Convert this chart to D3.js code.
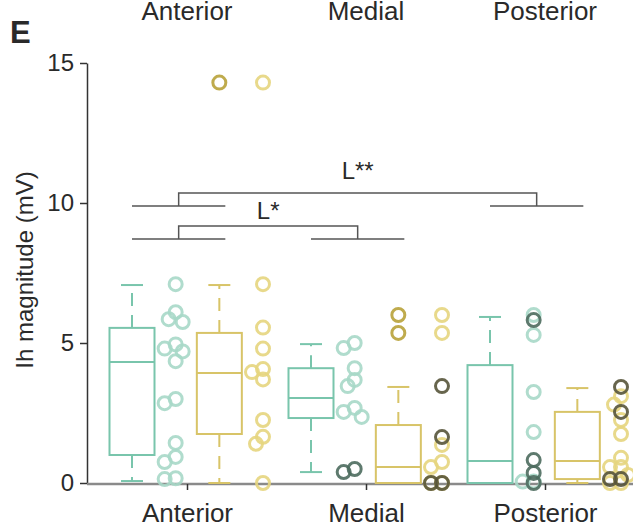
<!DOCTYPE html>
<html lang="en">
<head>
<meta charset="UTF-8">
<title>Ih magnitude</title>
<script src="https://d3js.org/d3.v7.min.js"></script>
<style>
  body { margin: 0; background: #fff; }
  text { font-family: "Liberation Sans", Arial, sans-serif; fill: #2a2a2a; }
</style>
</head>
<body>
<script>
var width = 633, height = 527;

var categories = ["Anterior", "Medial", "Posterior"];
var yTicks = [0, 5, 10, 15];

// box summaries, one value per category
var tealLo  = [0.07, 0.39, 0];
var tealQ1  = [1.0, 2.32, 0];
var tealMed = [4.32, 3.04, 0.79];
var tealQ3  = [5.54, 4.1, 4.21];
var tealHi  = [7.07, 4.96, 5.93];

var yelLo  = [0, 0, 0];
var yelQ1  = [1.75, 0, 0.14];
var yelMed = [3.93, 0.57, 0.79];
var yelQ3  = [5.36, 2.07, 2.54];
var yelHi  = [7.07, 3.43, 3.39];
var yelOut = [[14.3], [6.0, 5.36], []];

// individual cells
var tealPts = [
  [7.1, 6.1, 5.85, 5.75, 4.95, 4.8, 4.7, 4.35, 3.0, 2.85, 1.43, 0.93, 0.75, 0.17, 0.14],
  [5.0, 4.82, 4.1, 3.68, 3.46, 2.68, 2.54, 2.36],
  [6.0, 5.29, 3.25, 1.82, 0.05, 0.05]
];
var tealDark = [[], [0.5, 0.39], [5.82, 0.82, 0.36, 0]];

var yelPts = [
  [14.3, 7.1, 5.55, 4.8, 4.07, 3.96, 3.7, 2.25, 1.65, 1.4, 0],
  [6.0, 5.36, 1.36, 0.75, 0.57, 0, 0],
  [3.1, 2.8, 2.25, 1.75, 0.9, 0.57, 0.57, 0.29, 0, 0]
];
var yelDark = [[], [3.46, 1.64, 0, 0], [3.43, 2.54, 0.14, 0.14]];

// significance brackets (levels in mV)
var brackets = [
  { a: "Anterior", b: "Posterior", base: 9.89, top: 10.36, label: "L**", gap: 14 },
  { a: "Anterior", b: "Medial",    base: 8.71, top: 9.18,  label: "L*",  gap: 7 }
];

var col = {
  tealBox: "#79c5ac", tealPt: "#a7d8c8", tealDark: "#4c6c5e",
  yelBox: "#d8c468", yelPt: "#e5d57e", yelDark: "#57543a", yelOut: "#b8a23a"
};

var svg = d3.select("body").append("svg")
  .attr("width", width).attr("height", height);

var x = d3.scalePoint().domain(categories).range([187, 545]);
var slot = d3.scalePoint().domain(["tealBox", "tealPts", "yelBox", "yelPts"]).range([-55, 76]);
var y = d3.scaleLinear().domain([0, 15]).range([483, 63]);
var boxW = 45, capW = 22, r = 6.5;

// y axis
var yAxis = svg.append("g").attr("transform", "translate(87,0)")
  .call(d3.axisLeft(y).tickValues(yTicks).tickSize(7).tickPadding(6).tickSizeOuter(0));
yAxis.select(".domain").attr("stroke", "#333").attr("stroke-width", 1.5);
yAxis.selectAll(".tick line").attr("stroke", "#333").attr("stroke-width", 1.5);
yAxis.selectAll(".tick text").style("font-size", "24px").attr("font-family", null);

svg.append("text")
  .attr("transform", "translate(33,270) rotate(-90)")
  .attr("text-anchor", "middle")
  .style("font-size", "24px")
  .text("Ih magnitude (mV)");

// x axis
svg.append("line").attr("x1", 87).attr("x2", width).attr("y1", 484).attr("y2", 484)
  .attr("stroke", "#8a8a8a").attr("stroke-width", 2.5);
var xAxis = svg.append("g").attr("transform", "translate(0,484)")
  .call(d3.axisBottom(x).tickSize(6).tickPadding(14).tickSizeOuter(0));
xAxis.select(".domain").remove();
xAxis.selectAll(".tick line").attr("stroke", "#333").attr("stroke-width", 1.5);
xAxis.selectAll(".tick text").style("font-size", "26px").attr("font-family", null)
  .attr("dy", "0.71em");

// top labels
svg.selectAll(".toplab").data(categories).enter().append("text")
  .attr("class", "toplab")
  .attr("x", function(d) { return x(d); }).attr("y", 20)
  .attr("text-anchor", "middle").style("font-size", "26px")
  .text(function(d) { return d; });

svg.append("text").attr("x", 10).attr("y", 43)
  .style("font-size", "31px").style("font-weight", "bold").text("E");

// boxes
function drawBoxes(key, lo, q1, med, q3, hi, color) {
  var g = svg.append("g");
  categories.forEach(function(c, i) {
    var cx = x(c) + slot(key);
    var dash = "13,9";
    g.append("line").attr("x1", cx).attr("x2", cx).attr("y1", y(q3[i])).attr("y2", y(hi[i]))
      .attr("stroke", color).attr("stroke-width", 2).attr("stroke-dasharray", dash);
    g.append("line").attr("x1", cx).attr("x2", cx).attr("y1", y(q1[i])).attr("y2", y(lo[i]))
      .attr("stroke", color).attr("stroke-width", 2).attr("stroke-dasharray", dash);
    [lo[i], hi[i]].forEach(function(v) {
      g.append("line").attr("x1", cx - capW / 2).attr("x2", cx + capW / 2)
        .attr("y1", y(v)).attr("y2", y(v)).attr("stroke", color).attr("stroke-width", 2);
    });
    g.append("rect").attr("x", cx - boxW / 2).attr("y", y(q3[i]))
      .attr("width", boxW).attr("height", y(q1[i]) - y(q3[i]))
      .attr("fill", "none").attr("stroke", color).attr("stroke-width", 2);
    g.append("line").attr("x1", cx - boxW / 2).attr("x2", cx + boxW / 2)
      .attr("y1", y(med[i])).attr("y2", y(med[i])).attr("stroke", color).attr("stroke-width", 2);
  });
}
drawBoxes("tealBox", tealLo, tealQ1, tealMed, tealQ3, tealHi, col.tealBox);
drawBoxes("yelBox", yelLo, yelQ1, yelMed, yelQ3, yelHi, col.yelBox);

// simple dodge so overlapping cells spread sideways a little
function dodge(vals) {
  var placed = [];
  var cands = [0, -7, 7, -11, 11];
  return vals.map(function(v) {
    var py = y(v);
    for (var k = 0; k < cands.length; k++) {
      var ok = placed.every(function(p) { return Math.hypot(p[0] - cands[k], p[1] - py) >= 9; });
      if (ok) { placed.push([cands[k], py]); return { v: v, dx: cands[k] }; }
    }
    placed.push([0, py]);
    return { v: v, dx: 0 };
  });
}

function drawPts(key, sets, color) {
  var g = svg.append("g");
  categories.forEach(function(c, i) {
    var cx = x(c) + slot(key);
    g.selectAll(null).data(dodge(sets[i])).enter().append("circle")
      .attr("cx", function(d) { return cx + d.dx; })
      .attr("cy", function(d) { return y(d.v); })
      .attr("r", r)
      .attr("fill", "none").attr("stroke", color).attr("stroke-width", 3)
      .attr("stroke-opacity", 0.9);
  });
}
drawPts("yelBox", yelOut, col.yelOut);
drawPts("tealPts", tealPts, col.tealPt);
drawPts("tealPts", tealDark, col.tealDark);
drawPts("yelPts", yelPts, col.yelPt);
drawPts("yelPts", yelDark, col.yelDark);

// brackets
var bl = svg.append("g").attr("stroke", "#555").attr("stroke-width", 1.5).attr("fill", "none");
brackets.forEach(function(b) {
  var left = slot("tealBox"), right = slot("yelBox") + 6, mid = (left + right) / 2;
  [b.a, b.b].forEach(function(c) {
    bl.append("line").attr("x1", x(c) + left).attr("x2", x(c) + right)
      .attr("y1", y(b.base)).attr("y2", y(b.base));
  });
  var xa = x(b.a) + mid, xb = x(b.b) + mid;
  bl.append("path").attr("d",
    "M" + xa + "," + y(b.base) + "V" + y(b.top) + "H" + xb + "V" + y(b.base));
  svg.append("text").attr("x", (xa + xb) / 2).attr("y", y(b.top) - b.gap)
    .attr("text-anchor", "middle").style("font-size", "24px").text(b.label);
});
</script>
</body>
</html>
